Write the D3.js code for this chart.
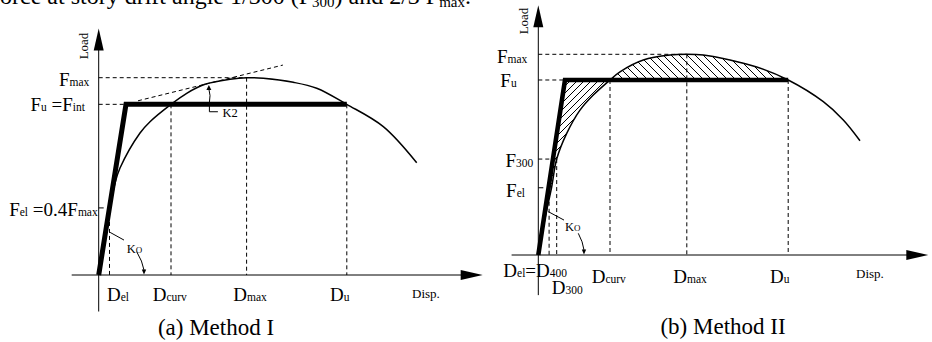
<!DOCTYPE html>
<html>
<head>
<meta charset="utf-8">
<script src="https://cdn.jsdelivr.net/npm/d3@7"></script>
<style>
  body { margin: 0; background: #fff; }
  svg { display: block; }
  svg text { font-family: 'Liberation Serif', 'DejaVu Serif', 'Times New Roman', serif; fill: #000; }
</style>
</head>
<body>
<svg id="fig" width="932" height="342"></svg>
<script>
// ---- data (disp / load in arbitrary units, Fmax = 100) ----
// Method I
const curveA = [[0,0],[2.7,25],[5.43,46.5],[7.1,54.2],[13.77,71.97],[17.1,77.7],[24.1,86.5],[29.33,92.1],[35.43,96.65],[43.77,99.2],[49.33,100],[54.87,99.7],[64.87,97.67],[72.67,94.63],[82.67,86.5],[94.87,75.2],[106,56.9]];
const bilinearA = [[0,0],[9.1,86.5],[82.7,86.5]];
const tangentA = [[13.1,88.3],[61.4,106.4]];
const loadA = { max: 100, u: 86.5, el: 34 };
const dispA = { el: 3.6, curv: 24.1, max: 49.3, u: 82.7 };

// Method II
const curveB = [[0,0],[2.2,18],[4.47,34],[6.13,47.8],[9.47,60.6],[13.9,72.2],[18.33,79.7],[23.9,87.2],[27.23,91.3],[35,97.2],[43.9,99.65],[49.5,100],[55,99.65],[63.9,97.2],[72.8,93.7],[83.3,87.2],[95,76.4],[101.67,67.3],[107.23,56.95]];
const bilinearB = [[0,0],[8.9,87.2],[83.3,87.2]];
const loadB = { max: 100, u: 87.2, f300: 47.8, el: 33.5 };
const dispB = { el: 3.6, d300: 6.13, curv: 23.9, max: 49.5, u: 83.3 };

const SERIF = "'Liberation Serif', 'DejaVu Serif', 'Times New Roman', serif";
const svg = d3.select("#fig").attr("font-family", SERIF);

// hatch patterns
const defs = svg.append("defs");
defs.append("pattern").attr("id", "hatchUp")
  .attr("patternUnits", "userSpaceOnUse").attr("width", 7).attr("height", 7)
  .append("path").attr("d", "M0,7 L7,0 M-2,2 L2,-2 M5,9 L9,5")
  .attr("stroke", "#000").attr("stroke-width", 1);
defs.append("pattern").attr("id", "hatchDown")
  .attr("patternUnits", "userSpaceOnUse").attr("width", 8).attr("height", 8)
  .append("path").attr("d", "M0,0 L8,8 M-2,6 L2,10 M6,-2 L10,2")
  .attr("stroke", "#000").attr("stroke-width", 1);

// text with big/small parts, e.g. [["F"],["max",1]]
function label(g, x, y, parts, anchor, big, small) {
  const t = g.append("text").attr("x", x).attr("y", y).attr("text-anchor", anchor || "start")
    .attr("font-family", SERIF);
  parts.forEach(p => {
    t.append("tspan").attr("font-size", p[1] ? (small || 11.5) : (big || 19)).text(p[0]);
  });
  return t;
}

function arrowHead(g, tipX, tipY, dir, len, half) {
  // dir: "up" | "right" | "down"
  let pts;
  if (dir === "up") pts = [[tipX, tipY], [tipX - half, tipY + len], [tipX + half, tipY + len]];
  else if (dir === "down") pts = [[tipX, tipY], [tipX - half, tipY - len], [tipX + half, tipY - len]];
  else pts = [[tipX, tipY], [tipX - len, tipY - half], [tipX - len, tipY + half]];
  g.append("path").attr("d", "M" + pts.join("L") + "Z").attr("fill", "#000");
}

function dashed(g, x, y, a, b) {
  g.append("line")
    .attr("x1", x(a[0])).attr("y1", y(a[1]))
    .attr("x2", x(b[0])).attr("y2", y(b[1]))
    .attr("stroke", "#000").attr("stroke-width", 1).attr("stroke-dasharray", "4,3");
}

function axes(g, x, y, ext) {
  g.append("line").attr("x1", x(0)).attr("x2", x(0))
    .attr("y1", y(ext.yBottom)).attr("y2", y(ext.yTop) + 10)
    .attr("stroke", "#000").attr("stroke-width", 1);
  arrowHead(g, x(0), y(ext.yTop), "up", 22, 5);
  g.append("line").attr("y1", y(0)).attr("y2", y(0))
    .attr("x1", x(ext.xLeft)).attr("x2", x(ext.xRight) - 10)
    .attr("stroke", "#000").attr("stroke-width", 1);
  arrowHead(g, x(ext.xRight), y(0), "right", 22, 5);
}

const curveLine = (x, y) => d3.line().x(d => x(d[0])).y(d => y(d[1])).curve(d3.curveCatmullRom);
const straight = (x, y) => d3.line().x(d => x(d[0])).y(d => y(d[1]));

// ---- cut-off text line at top ----
const headLine = svg.append("text").attr("x", 471).attr("y", 4).attr("text-anchor", "end")
  .attr("font-family", SERIF).attr("font-size", 24);
headLine.append("tspan").text("force at story drift angle 1/300 (F");
headLine.append("tspan").attr("font-size", 15).attr("dy", 3).text("300");
headLine.append("tspan").attr("dy", -3).text(") and 2/3 F");
headLine.append("tspan").attr("font-size", 15).attr("dy", 3).text("max");
headLine.append("tspan").attr("dy", -3).text(".");

// ================= Method I =================
{
  const g = svg.append("g");
  const x = d3.scaleLinear().domain([0, 100]).range([98.7, 398.7]);
  const y = d3.scaleLinear().domain([0, 100]).range([275, 77.7]);

  axes(g, x, y, { yTop: 125, yBottom: -18.5, xLeft: -9, xRight: 128 });

  // dashed guides
  dashed(g, x, y, [0, loadA.max], [dispA.max, loadA.max]);
  dashed(g, x, y, [0, loadA.u], [bilinearA[1][0], loadA.u]);
  dashed(g, x, y, tangentA[0], tangentA[1]);
  dashed(g, x, y, [dispA.el, loadA.el], [dispA.el, 0]);
  dashed(g, x, y, [dispA.curv, loadA.u], [dispA.curv, 0]);
  dashed(g, x, y, [dispA.max, loadA.max], [dispA.max, 0]);
  dashed(g, x, y, [dispA.u, loadA.u], [dispA.u, 0]);
  g.append("line").attr("x1", x(0)).attr("x2", x(0) + 5)
    .attr("y1", y(loadA.el)).attr("y2", y(loadA.el)).attr("stroke", "#000");

  g.append("path").datum(curveA).attr("d", curveLine(x, y))
    .attr("fill", "none").attr("stroke", "#000").attr("stroke-width", 1.5);
  g.append("path").datum(bilinearA).attr("d", straight(x, y))
    .attr("fill", "none").attr("stroke", "#000").attr("stroke-width", 5).attr("stroke-linejoin", "miter");

  // K2 angle mark
  const kx = x(36.9);
  g.append("path").attr("d", `M${kx - 0.5},${y(96.3) + 4} Q${kx + 1.5},${y(91)} ${kx},${y(loadA.u) - 2}`)
    .attr("fill", "none").attr("stroke", "#000").attr("stroke-width", 1);
  arrowHead(g, kx - 0.5, y(96.3), "up", 5, 2.5);
  g.append("path").attr("d", `M${kx},${y(loadA.u) - 2} V${y(loadA.u) + 7.4} H${kx + 8.5}`)
    .attr("fill", "none").attr("stroke", "#000").attr("stroke-width", 1);
  g.append("text").attr("x", kx + 13).attr("y", y(loadA.u) + 12.4)
    .attr("font-family", SERIF).attr("font-size", 12.5).text("K2");

  // Ko annotation
  g.append("line").attr("x1", x(3.8)).attr("y1", y(21.6)).attr("x2", x(8.43)).attr("y2", y(17.7))
    .attr("stroke", "#000").attr("stroke-width", 1);
  g.append("path").attr("d", `M${x(12.67)},${y(11.8)} Q${x(14.6)},${y(7)} ${x(15.1)},${y(2.5)}`)
    .attr("fill", "none").attr("stroke", "#000").attr("stroke-width", 1);
  arrowHead(g, x(15.1), y(0.3), "down", 5, 2.2);
  const ko = g.append("text").attr("x", x(9.33)).attr("y", y(11.1)).attr("font-family", SERIF);
  ko.append("tspan").attr("font-size", 12.5).text("K");
  ko.append("tspan").attr("font-size", 9).text("O");

  // load labels
  label(g, x(0) - 9.4, y(loadA.max) + 8.3, [["F"], ["max", 1]], "end");
  label(g, x(0) - 13.7, y(loadA.u) + 6.4, [["F"], ["u", 1], [" =F"], ["int", 1]], "end");
  label(g, x(0) - 1, y(loadA.el) + 8.4, [["F"], ["el", 1], [" =0.4F"], ["max", 1]], "end");

  // displacement labels
  const by = y(0) + 25.7;
  label(g, x(dispA.el) - 2.5, by, [["D"], ["el", 1]]);
  label(g, x(dispA.curv) - 18.3, by, [["D"], ["curv", 1]]);
  label(g, x(dispA.max) - 13.3, by, [["D"], ["max", 1]]);
  label(g, x(dispA.u) - 16.8, by, [["D"], ["u", 1]]);

  g.append("text").attr("x", 412).attr("y", 298).attr("font-family", SERIF).attr("font-size", 13).text("Disp.");
  g.append("text").attr("transform", "translate(87.5,46) rotate(-90)").attr("font-family", SERIF)
    .attr("text-anchor", "middle").attr("font-size", 13).text("Load");
  g.append("text").attr("x", 216).attr("y", 335).attr("text-anchor", "middle").attr("font-family", SERIF)
    .attr("font-size", 23).text("(a) Method I");
}

// ================= Method II =================
{
  const g = svg.append("g");
  const x = d3.scaleLinear().domain([0, 100]).range([538.3, 838.3]);
  const y = d3.scaleLinear().domain([0, 100]).range([255, 54.3]);

  // hatched areas
  const lower = curveB.filter(d => d[0] <= dispB.curv);
  const upper = curveB.filter(d => d[0] >= dispB.curv && d[0] <= dispB.u);
  g.append("path")
    .attr("d", curveLine(x, y)(lower) + `L${x(bilinearB[1][0])},${y(bilinearB[1][1])}Z`)
    .attr("fill", "url(#hatchUp)");
  g.append("path")
    .attr("d", curveLine(x, y)(upper) + "Z")
    .attr("fill", "url(#hatchDown)");

  axes(g, x, y, { yTop: 124.5, yBottom: -20, xLeft: -8.9, xRight: 130 });

  dashed(g, x, y, [0, loadB.max], [dispB.max, loadB.max]);
  dashed(g, x, y, [0, loadB.u], [bilinearB[1][0], loadB.u]);
  dashed(g, x, y, [0, loadB.f300], [dispB.d300, loadB.f300]);
  dashed(g, x, y, [dispB.el, loadB.el], [dispB.el, 0]);
  dashed(g, x, y, [dispB.d300, loadB.f300], [dispB.d300, 0]);
  dashed(g, x, y, [dispB.curv, loadB.u], [dispB.curv, 0]);
  dashed(g, x, y, [dispB.max, loadB.max], [dispB.max, 0]);
  dashed(g, x, y, [dispB.u, loadB.u], [dispB.u, 0]);
  g.append("line").attr("x1", x(0)).attr("x2", x(0) + 5)
    .attr("y1", y(loadB.el)).attr("y2", y(loadB.el)).attr("stroke", "#000");

  g.append("path").datum(curveB).attr("d", curveLine(x, y))
    .attr("fill", "none").attr("stroke", "#000").attr("stroke-width", 1.5);
  g.append("path").datum(bilinearB).attr("d", straight(x, y))
    .attr("fill", "none").attr("stroke", "#000").attr("stroke-width", 4.6).attr("stroke-linejoin", "miter");

  // Ko annotation
  g.append("line").attr("x1", x(3.33)).attr("y1", y(21.6)).attr("x2", x(8.57)).attr("y2", y(17.4))
    .attr("stroke", "#000").attr("stroke-width", 1);
  g.append("path").attr("d", `M${x(13.33)},${y(10.8)} Q${x(14.9)},${y(6.5)} ${x(15.23)},${y(2.5)}`)
    .attr("fill", "none").attr("stroke", "#000").attr("stroke-width", 1);
  arrowHead(g, x(15.23), y(0.3), "down", 5, 2.2);
  const ko = g.append("text").attr("x", x(8.9)).attr("y", y(12.1)).attr("font-family", SERIF);
  ko.append("tspan").attr("font-size", 12.5).text("K");
  ko.append("tspan").attr("font-size", 9).text("O");

  label(g, x(0) - 11, y(loadB.max) + 9, [["F"], ["max", 1]], "end");
  label(g, x(0) - 21.6, y(loadB.u) + 7, [["F"], ["u", 1]], "end");
  label(g, x(0) - 5, y(loadB.f300) + 7.8, [["F"], ["300", 1]], "end");
  label(g, x(0) - 13.3, y(loadB.el) + 8.8, [["F"], ["el", 1]], "end");

  label(g, x(dispB.el) - 45.8, y(0) + 21.5, [["D"], ["el", 1], ["="], ["D"], ["400", 1]]);
  label(g, x(dispB.d300) - 5, y(0) + 38.5, [["D"], ["300", 1]]);
  label(g, x(dispB.curv) - 18.3, y(0) + 28, [["D"], ["curv", 1]]);
  label(g, x(dispB.max) - 13.5, y(0) + 28, [["D"], ["max", 1]]);
  label(g, x(dispB.u) - 18.2, y(0) + 28, [["D"], ["u", 1]]);

  g.append("text").attr("x", 856).attr("y", 277.5).attr("font-family", SERIF).attr("font-size", 13).text("Disp.");
  g.append("text").attr("transform", "translate(527.5,21) rotate(-90)").attr("font-family", SERIF)
    .attr("text-anchor", "middle").attr("font-size", 13).text("Load");
  g.append("text").attr("x", 723).attr("y", 334).attr("text-anchor", "middle").attr("font-family", SERIF)
    .attr("font-size", 23).text("(b) Method II");
}
</script>
</body>
</html>
